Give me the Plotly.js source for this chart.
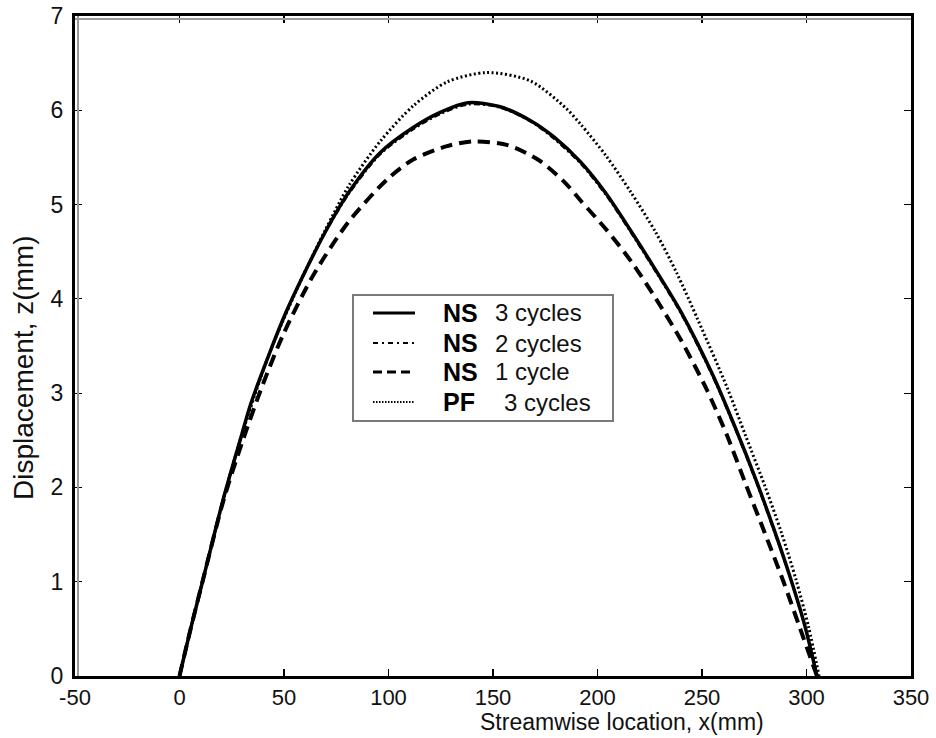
<!DOCTYPE html>
<html>
<head>
<meta charset="utf-8">
<script src="https://cdn.plot.ly/plotly-3.0.1.min.js"></script>
<style>
  html, body { margin: 0; padding: 0; background: #ffffff; }
  #chart { width: 936px; height: 738px; }
</style>
</head>
<body>
<div id="chart"></div>
<script>
// ---------- data ----------
const seriesNames = ['NS 3 cycles', 'NS 2 cycles', 'NS 1 cycle', 'PF 3 cycles'];
const legendCodes = ['NS', 'NS', 'NS', 'PF'];
const legendDesc = ['3 cycles', '2 cycles', '1 cycle', '3 cycles'];

const xNS3 = [0, 5, 11, 21, 29, 34, 43, 51, 59, 70, 81, 96, 112, 125, 138, 153, 168, 179, 192, 204, 216, 228, 240, 255, 266, 276, 285, 292, 299, 305];
const zNS3 = [0, 0.47, 1.0, 1.88, 2.5, 2.88, 3.42, 3.86, 4.24, 4.72, 5.13, 5.55, 5.82, 5.98, 6.08, 6.04, 5.89, 5.72, 5.45, 5.12, 4.72, 4.30, 3.86, 3.20, 2.63, 2.07, 1.52, 1.06, 0.55, 0];

const xNS2 = [0, 5, 11, 21, 29, 34, 43, 51, 59, 70, 81, 96, 112, 125, 138, 153, 168, 179, 192, 204, 216, 228, 240, 255, 266, 276, 285, 292, 299, 305];
const zNS2 = [0, 0.47, 1.0, 1.88, 2.5, 2.88, 3.42, 3.85, 4.23, 4.71, 5.11, 5.53, 5.80, 5.96, 6.06, 6.03, 5.88, 5.70, 5.43, 5.10, 4.70, 4.28, 3.84, 3.18, 2.61, 2.05, 1.50, 1.05, 0.54, 0];

const xNS1 = [0, 5, 11, 21, 30, 40, 50, 64, 81, 100, 112, 128, 141, 157, 172, 185, 192, 204, 216, 228, 240, 252, 262, 271, 280, 289, 297, 305];
const zNS1 = [0, 0.47, 1.0, 1.86, 2.48, 3.1, 3.64, 4.25, 4.82, 5.28, 5.48, 5.62, 5.67, 5.63, 5.47, 5.22, 5.04, 4.74, 4.40, 4.0, 3.56, 3.05, 2.55, 2.03, 1.52, 1.0, 0.5, 0];

const xPF3 = [0, 5, 11, 21, 29, 43, 59, 70, 81, 96, 112, 128, 147, 168, 185, 192, 204, 216, 228, 238, 248, 262, 271, 280, 288, 295, 301, 306];
const zPF3 = [0, 0.47, 1.0, 1.88, 2.5, 3.42, 4.24, 4.74, 5.2, 5.67, 6.05, 6.30, 6.40, 6.31, 6.02, 5.85, 5.52, 5.13, 4.70, 4.27, 3.78, 3.06, 2.54, 2.02, 1.52, 1.02, 0.52, 0];

const xTicks = [-50, 0, 50, 100, 150, 200, 250, 300, 350];
const yTicks = [0, 1, 2, 3, 4, 5, 6, 7];
const xTitle = 'Streamwise location, x(mm)';
const yTitle = 'Displacement, z(mm)';

// ---------- layout helpers ----------
const W = 936, H = 738;
const M = { l: 75, r: 25, t: 16, b: 62 };
const PW = W - M.l - M.r, PH = H - M.t - M.b;
const px = x => (x - M.l) / PW;          // pixel -> paper x
const py = y => (H - M.b - y) / PH;      // pixel -> paper y
const FONT = 'Liberation Sans, Arial, Helvetica, sans-serif';

const styles = [
  { width: 3.5, dash: 'solid' },
  { width: 2, dash: '6px,3px,2px,3px' },
  { width: 4, dash: '12px,7px' },
  { width: 3, dash: '2px,2.5px' }
];
const xs = [xNS3, xNS2, xNS1, xPF3];
const zs = [zNS3, zNS2, zNS1, zPF3];

const drawOrder = [3, 2, 1, 0];
const traces = drawOrder.map(i => ({
  type: 'scatter', mode: 'lines', name: seriesNames[i],
  x: xs[i], y: zs[i],
  line: { color: '#000', width: styles[i].width, dash: styles[i].dash, shape: 'spline', smoothing: 0.8 },
  showlegend: false, hoverinfo: 'x+y'
}));

// ---------- manual legend ----------
const rowY = [313, 343, 372, 402];
const shapes = [
  { type: 'line', xref: 'paper', yref: 'paper', x0: 0, x1: 1, y0: 1 - 3 / PH, y1: 1 - 3 / PH, line: { color: '#9a9a9a', width: 2 } },
  { type: 'line', xref: 'paper', yref: 'paper', x0: 3 / PW, x1: 3 / PW, y0: 0, y1: 1, line: { color: '#9a9a9a', width: 2 } },
  { type: 'rect', xref: 'paper', yref: 'paper', x0: px(353), x1: px(613), y0: py(421), y1: py(295),
    line: { color: '#7a7a7a', width: 2 }, fillcolor: '#ffffff', layer: 'above' }
];
const legStyles = [
  { width: 3, dash: 'solid' },
  { width: 2, dash: '5px,4px,2px,4px' },
  { width: 3, dash: '9px,5px' },
  { width: 2, dash: '1.5px,1.5px' }
];
const annotations = [];
for (let i = 0; i < 4; i++) {
  shapes.push({ type: 'line', xref: 'paper', yref: 'paper', x0: px(373), x1: px(415), y0: py(rowY[i]), y1: py(rowY[i]),
    line: { color: '#000', width: legStyles[i].width, dash: legStyles[i].dash }, layer: 'above' });
  annotations.push({ xref: 'paper', yref: 'paper', x: px(441), y: py(rowY[i]), xanchor: 'left', yanchor: 'middle',
    text: '<b>' + legendCodes[i] + '</b>', showarrow: false, font: { family: FONT, size: 25, color: '#000' } });
  annotations.push({ xref: 'paper', yref: 'paper', x: px(i === 3 ? 502 : 493), y: py(rowY[i]), xanchor: 'left', yanchor: 'middle',
    text: legendDesc[i], showarrow: false, font: { family: FONT, size: 24, color: '#111' } });
}
annotations.push({ xref: 'paper', yref: 'paper', x: px(622), y: py(722), xanchor: 'center', yanchor: 'middle',
  text: xTitle, showarrow: false, font: { family: FONT, size: 23, color: '#111' } });
annotations.push({ xref: 'paper', yref: 'paper', x: px(23), y: py(368), xanchor: 'center', yanchor: 'middle',
  text: yTitle, textangle: -90, showarrow: false, font: { family: FONT, size: 28, color: '#111' } });

const axisCommon = {
  showline: true, linecolor: '#000', linewidth: 3, mirror: 'ticks',
  ticks: 'inside', ticklen: 7, tickwidth: 1.2, tickcolor: '#000',
  showgrid: false, zeroline: false,
  tickfont: { family: FONT, size: 22, color: '#111' }
};

const layout = {
  width: W, height: H, margin: M,
  paper_bgcolor: '#ffffff', plot_bgcolor: '#ffffff',
  showlegend: false,
  xaxis: Object.assign({}, axisCommon, { range: [-50, 350], tickmode: 'array', tickvals: xTicks, ticktext: xTicks.map(String) }),
  yaxis: Object.assign({}, axisCommon, { range: [0, 7], tickmode: 'array', tickvals: yTicks, ticktext: yTicks.map(String), ticklabelstandoff: 4, tickfont: { family: FONT, size: 23, color: '#111' } }),
  shapes: shapes,
  annotations: annotations
};

Plotly.newPlot('chart', traces, layout, { displayModeBar: false, staticPlot: true });
</script>
</body>
</html>
